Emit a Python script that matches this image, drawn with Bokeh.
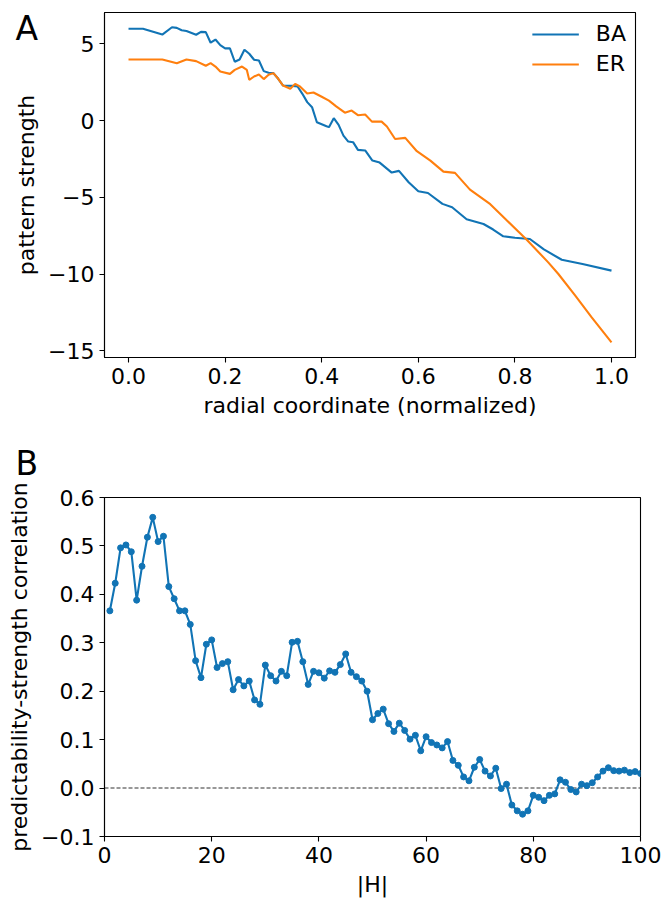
from bokeh.plotting import figure
from bokeh.layouts import column
from bokeh.models import (Range1d, FixedTicker, Label, Legend, LegendItem, Span,
                          CustomJSTickFormatter)
from bokeh.embed import file_html
from bokeh.resources import INLINE

# ---------------- data: panel A ----------------
ba_x = [0.00, 0.03, 0.07, 0.09, 0.10, 0.11, 0.12, 0.14, 0.15, 0.16, 0.17, 0.18, 0.19,
        0.20, 0.21, 0.22, 0.23, 0.24, 0.25, 0.26, 0.27, 0.28, 0.29, 0.30, 0.31, 0.32,
        0.34, 0.35, 0.36, 0.37, 0.38, 0.39, 0.41, 0.415, 0.425, 0.435, 0.445, 0.455,
        0.465, 0.475, 0.49, 0.505, 0.52, 0.545, 0.56, 0.58, 0.60, 0.62, 0.65, 0.67,
        0.70, 0.735, 0.755, 0.776, 0.80, 0.831, 0.86, 0.897, 0.94, 1.00]
ba_y = [5.98, 5.98, 5.60, 6.08, 6.04, 5.88, 5.83, 5.59, 5.78, 5.76, 5.07, 5.28, 4.91,
        4.70, 4.70, 3.83, 3.98, 4.61, 4.35, 3.96, 3.91, 3.22, 3.11, 3.09, 2.72, 2.28,
        2.26, 2.22, 1.74, 1.20, 0.87, -0.11, -0.37, -0.43, 0.15, -0.28, -0.98, -1.37,
        -1.41, -1.91, -1.95, -2.61, -2.74, -3.39, -3.28, -4.02, -4.61, -4.72, -5.43, -5.65,
        -6.43, -6.74, -7.10, -7.54, -7.64, -7.72, -8.40, -9.07, -9.35, -9.78]

er_x = [0.00, 0.07, 0.10, 0.12, 0.14, 0.16, 0.17, 0.18, 0.19, 0.21, 0.22, 0.235, 0.245,
        0.25, 0.26, 0.27, 0.28, 0.29, 0.30, 0.31, 0.32, 0.335, 0.345, 0.355, 0.37, 0.383,
        0.40, 0.415, 0.43, 0.448, 0.462, 0.475, 0.49, 0.504, 0.524, 0.535, 0.552, 0.573,
        0.597, 0.625, 0.652, 0.676, 0.707, 0.749, 0.783, 0.824, 0.869, 0.89, 0.925,
        0.959, 1.00]
er_y = [3.98, 3.98, 3.74, 3.98, 3.87, 3.57, 3.74, 3.52, 3.20, 3.04, 3.30, 3.52, 3.30,
        2.65, 2.87, 3.00, 2.70, 2.98, 3.09, 2.72, 2.28, 2.07, 2.39, 2.22, 1.76, 1.83,
        1.55, 1.30, 0.92, 0.51, 0.65, 0.35, 0.39, -0.07, -0.07, -0.39, -1.20, -1.13,
        -2.00, -2.61, -3.33, -3.41, -4.50, -5.45, -6.50, -7.75, -9.24, -10.00, -11.41,
        -12.83, -14.45]

a_xticks = [0.0, 0.2, 0.4, 0.6, 0.8, 1.0]
a_yticks = [-15, -10, -5, 0, 5]

# ---------------- data: panel B ----------------
h_vals = list(range(1, 101))
corr = [0.366, 0.423, 0.496, 0.502, 0.488, 0.388, 0.458, 0.518, 0.559, 0.509,
        0.520, 0.416, 0.391, 0.366, 0.366, 0.338, 0.263, 0.228, 0.297, 0.306,
        0.249, 0.257, 0.261, 0.203, 0.224, 0.211, 0.221, 0.182, 0.173, 0.254,
        0.232, 0.221, 0.241, 0.232, 0.301, 0.303, 0.261, 0.214, 0.241, 0.238,
        0.227, 0.242, 0.239, 0.255, 0.277, 0.239, 0.230, 0.221, 0.200, 0.141,
        0.154, 0.163, 0.133, 0.117, 0.134, 0.119, 0.101, 0.109, 0.077, 0.106,
        0.094, 0.089, 0.083, 0.096, 0.057, 0.047, 0.023, 0.015, 0.043, 0.059,
        0.035, 0.025, 0.041, -0.001, 0.008, -0.035, -0.047, -0.054, -0.047, -0.015,
        -0.019, -0.026, -0.015, -0.012, 0.017, 0.012, -0.003, -0.008, 0.008, 0.005,
        0.011, 0.023, 0.035, 0.042, 0.036, 0.035, 0.037, 0.032, 0.034, 0.030]

b_xticks = [0, 20, 40, 60, 80, 100]
b_yticks = [-0.1, 0.0, 0.1, 0.2, 0.3, 0.4, 0.5, 0.6]

BLUE = "#1174b5"
ORANGE = "#ff7f0e"
FONT = "DejaVu Sans"
FS = "22px"


def fmt(digits):
    return CustomJSTickFormatter(
        code="const s = tick.toFixed(%d); return s.replace('-', '\u2212');" % digits)


def style(p, xticks, yticks, xd, yd):
    p.xgrid.grid_line_color = None
    p.ygrid.grid_line_color = None
    p.outline_line_color = "black"
    p.outline_line_width = 1.1
    p.outline_line_alpha = 1.0
    p.background_fill_color = "white"
    p.border_fill_color = "white"
    p.xaxis.ticker = FixedTicker(ticks=xticks)
    p.yaxis.ticker = FixedTicker(ticks=yticks)
    p.xaxis.formatter = fmt(xd)
    p.yaxis.formatter = fmt(yd)
    for ax in (p.xaxis[0], p.yaxis[0]):
        ax.major_tick_out = 5
        ax.major_tick_in = 0
        ax.minor_tick_out = 0
        ax.minor_tick_in = 0
        ax.axis_line_color = "black"
        ax.axis_line_width = 1.1
        ax.major_tick_line_color = "black"
        ax.major_tick_line_width = 1.1
        ax.major_label_text_font = FONT
        ax.major_label_text_font_size = FS
        ax.major_label_text_color = "black"
        ax.major_label_standoff = 5
        ax.axis_label_text_font = FONT
        ax.axis_label_text_font_size = FS
        ax.axis_label_text_font_style = "normal"
        ax.axis_label_text_color = "black"
        ax.axis_label_standoff = 6


def panel_letter(text, x, y):
    # placed in the right side panel (not clipped to the frame), shifted left in pixels
    return Label(x=x, y=y, x_units="screen", y_units="screen", text=text,
                 text_font=FONT, text_font_size="33px", text_color="black",
                 text_baseline="alphabetic", text_align="left")


# ---------------- panel A ----------------
pA = figure(frame_width=531, frame_height=345,
            x_range=Range1d(-0.0497, 1.0497), y_range=Range1d(-15.44, 7.04),
            min_border_left=96, min_border_right=30, min_border_top=12, min_border_bottom=73,
            output_backend="svg", toolbar_location=None)
style(pA, a_xticks, a_yticks, 1, 0)
pA.xaxis.axis_label = "radial coordinate (normalized)"
pA.yaxis.axis_label = "pattern strength"

rBA = pA.line(ba_x, ba_y, line_color=BLUE, line_width=2.1)
rER = pA.line(er_x, er_y, line_color=ORANGE, line_width=2.1)

legend = Legend(items=[LegendItem(label="BA", renderers=[rBA]),
                       LegendItem(label="ER", renderers=[rER])],
                location="top_right", border_line_color=None, background_fill_alpha=0,
                label_text_font=FONT, label_text_font_size=FS, label_text_color="black",
                glyph_width=47, glyph_height=22, label_height=22, label_standoff=17,
                spacing=5, padding=9, margin=9)
pA.add_layout(legend)
pA.add_layout(panel_letter("A", -620, 329), "right")

# ---------------- panel B ----------------
pB = figure(frame_width=536, frame_height=339,
            x_range=Range1d(0, 100), y_range=Range1d(-0.1, 0.6),
            min_border_left=104, min_border_right=25, min_border_top=67, min_border_bottom=55,
            output_backend="svg", toolbar_location=None)
style(pB, b_xticks, b_yticks, 0, 1)
pB.xaxis.axis_label = "|H|"
pB.yaxis.axis_label = "predictability-strength correlation"

pB.add_layout(Span(location=0, dimension="width", line_color="#333333",
                   line_width=1.1, line_dash="4 2", level="underlay"))
pB.line(h_vals, corr, line_color=BLUE, line_width=2.1)
pB.scatter(h_vals, corr, size=6, fill_color=BLUE, line_color=BLUE)
pB.add_layout(panel_letter("B", -625, 373), "right")

layout = column(pA, pB, spacing=0)
open("out.html", "w").write(file_html(layout, INLINE))
